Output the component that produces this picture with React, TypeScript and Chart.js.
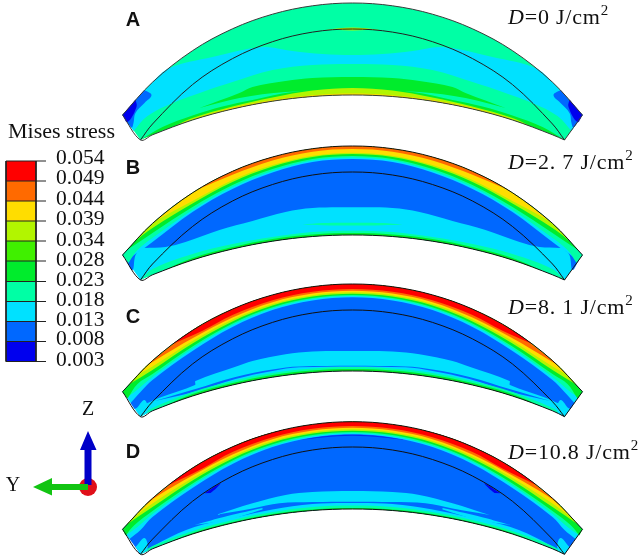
import { useEffect, useRef } from "react";
import { Chart, registerables } from "chart.js";

Chart.register(...registerables);

type P = number[];

const RED = "#FF0000", ORANGE = "#FF6A00", YELLOW = "#FFDD00", LIME = "#B2F500", GREEN1 = "#40F000",
  GREEN2 = "#00EC2C", TEAL = "#00FFA5", CYAN = "#00E1FF", BLUE = "#0068FF", DEEP = "#0000EE";

const legendTitle = "Mises stress";
const legendLabels = ["0.054", "0.049", "0.044", "0.039", "0.034", "0.028", "0.023", "0.018", "0.013", "0.008", "0.003"];
const legendColors = [RED, ORANGE, YELLOW, LIME, GREEN1, GREEN2, TEAL, CYAN, BLUE, DEEP];
const legendLevels = [161, 181, 201, 221, 241, 261, 281.5, 301.5, 321.5, 341.5, 361.5];
const labelLevels = [158.5, 178.5, 199, 219.5, 240, 260, 280, 300, 320, 339.5, 360];

const panelLetters = ["A", "B", "C", "D"];
const letterLevels = [20, 168, 317, 452];
const doseValues = ["=0 J/cm", "=2. 7 J/cm", "=8. 1 J/cm", "=10.8 J/cm"];
const doseLevels = [18, 163, 308, 453];

// Panel A contour boundaries: [distance from the symmetry axis, level]
const outerA: P[] = [[0, 3], [40, 5.8], [80, 14.2], [120, 28.8], [160, 50.7], [200, 82.2], [230, 115]];
const innerA: P[] = [[0, 95], [40, 96.5], [80, 101.2], [120, 109], [160, 120], [200, 134.8], [212, 140]];
const midA: P[] = [[0, 29], [40, 32.1], [80, 41.7], [120, 58.6], [160, 84.6], [200, 124], [212, 140]];
const cyanTopA: P[] = [[0, 55], [30, 54], [60, 51], [90, 47], [140, 57], [183, 68], [200, 82.2], [230, 115]];
const cyanLowA: P[] = [[0, 64], [40, 65], [80, 70], [120, 82], [150, 92], [180, 103], [205, 116], [219, 131]];
const lensTopA: P[] = [[0, 77], [40, 78], [67, 81], [100, 87], [113, 93], [153, 108]];
const lensLowA: P[] = [[0, 90], [67, 92], [113, 98], [153, 108]];
const stripTopA: P[] = [[0, 88], [60, 92], [100, 100], [130, 106.5], [160, 115.5], [190, 127], [212, 140]];
const limeTopA: P[] = [[0, 88], [40, 90.5], [80, 97.5], [120, 106.5], [160, 118], [178, 126]];
const yellowTopA: P[] = [[0, 93.5], [40, 95.2], [80, 100], [120, 107.8], [160, 119.2]];
const crescentTopA: P[] = [[0, 27.5], [27, 29.6]];
const crescentLowA: P[] = [[0, 30.5], [27, 29.6]];
const blueSideA: P[] = [[208, 90], [201, 95], [208, 103], [217, 113], [219, 123], [221, 127.5], [230, 115]];
const deepSideA: P[] = [[217, 99.6], [216, 107], [225, 122], [230, 115]];

// Panel B
const outerB: P[] = [[0, 146], [40, 148.7], [80, 157], [120, 171.3], [160, 192.8], [200, 223.4], [230, 255]];
const innerB: P[] = [[0, 235], [40, 236.5], [80, 241.2], [120, 249], [160, 260], [200, 274.8], [212, 280]];
const midB: P[] = [[0, 172], [40, 175], [80, 184.5], [120, 201], [160, 226.5], [200, 264], [212, 280]];
const blueUpB: P[] = [[0, 159], [40, 162], [80, 172.5], [120, 189], [160, 212], [200, 242], [208, 248]];
const blueLowB: P[] = [[0, 207.3], [40, 208], [67, 212], [100, 221], [133, 230], [167, 242], [187, 247], [208, 248]];
const blueSideB: P[] = [[226, 261], [220, 270], [217, 255], [212, 250]];
const tealB: P[] = [[0, 157.5], [40, 160.5], [80, 171], [120, 187], [160, 210], [200, 238], [215, 250], [224, 263]];
const greenB: P[] = [[0, 156], [40, 159], [80, 169], [120, 185], [160, 207], [200, 233], [226, 250.3]];
const limeB: P[] = [[0, 154], [40, 157], [80, 166.5], [120, 182], [160, 203.5], [200, 228], [218, 241.5]];
const yellowB: P[] = [[0, 152.7], [40, 155.7], [80, 165], [120, 180], [160, 201], [195, 220], [203, 226.2]];
const orangeB: P[] = [[0, 149], [40, 151.7], [80, 160.5], [120, 174.8], [155, 189.7]];
const stripTealB: P[] = [[0, 230.7], [40, 232], [80, 237], [120, 244], [160, 254], [200, 269], [212, 280]];
const stripGreenB: P[] = [[0, 233], [40, 234.5], [80, 239], [120, 247], [160, 258], [190, 270.8]];
const lensTopB: P[] = [[0, 222.7], [30, 223], [50, 224.5]];
const lensLowB: P[] = [[0, 225.5], [30, 225.2], [50, 224.5]];

// Panel C
const outerC: P[] = [[0, 284], [40, 286.7], [80, 294.9], [120, 309.1], [160, 330.3], [200, 360.6], [230, 391.7]];
const innerC: P[] = [[0, 371], [40, 372.5], [80, 377.2], [120, 385], [160, 396], [200, 410.8], [212, 416.7]];
const midC: P[] = [[0, 310], [40, 313], [80, 322.4], [120, 338.9], [160, 364], [200, 401.7], [212, 416.7]];
const blueUpC: P[] = [[0, 297.3], [40, 300.5], [80, 310], [120, 327], [160, 351], [200, 380], [212, 392], [222, 403]];
const blueLowC: P[] = [[0, 351], [40, 351.5], [67, 354.3], [100, 361], [117, 366.7], [157, 381], [157.5, 385], [193, 397.7], [205, 403], [218, 409]];
const tealC: P[] = [[0, 296], [40, 299], [80, 308.5], [120, 325], [160, 348.5], [200, 377], [218, 392], [226, 397.3]];
const greenC: P[] = [[0, 295], [40, 298], [80, 307.2], [120, 323.5], [160, 346.5], [200, 374], [215, 384], [225, 398.6]];
const limeC: P[] = [[0, 293.7], [40, 296.6], [80, 305.6], [120, 321.5], [160, 343.5], [200, 370], [224, 384.7]];
const yellowC: P[] = [[0, 292.3], [40, 295.2], [80, 304], [120, 319.5], [160, 341], [200, 366.6], [215, 375]];
const orangeC: P[] = [[0, 290.7], [40, 293.6], [80, 302.2], [120, 317.5], [160, 338.3], [195, 359], [205, 365.2]];
const redC: P[] = [[0, 289], [40, 291.8], [80, 300.3], [120, 315], [150, 330.8], [180, 344]];
const wedgeTopC: P[] = [[53, 366.5], [80, 369.5], [117, 377], [157, 389], [198, 401]];
const wedgeLowC: P[] = [[53, 367.3], [80, 371], [117, 379], [157, 391.5], [198, 401]];
const stripTealC: P[] = [[0, 367], [40, 368.5], [80, 373], [120, 381], [160, 392], [200, 408], [212, 416.7]];
const stripGreenC: P[] = [[0, 369], [40, 370.5], [80, 375], [120, 383], [160, 394], [190, 406.8]];
const cornerC: P[] = [[217, 410], [208, 400], [205, 411.7], [212, 416.7]];

// Panel D
const outerD: P[] = [[0, 421.7], [40, 424.4], [80, 432.6], [120, 446.8], [160, 468], [200, 498.3], [230, 529.3]];
const innerD: P[] = [[0, 509], [40, 510.5], [80, 515.2], [120, 523], [160, 534], [200, 548.8], [212, 554.3]];
const midD: P[] = [[0, 447], [40, 450], [80, 459.5], [120, 476], [160, 501.3], [200, 539.2], [212, 554.3]];
const cyanD: P[] = [[0, 434.3], [40, 437.5], [80, 447], [120, 464], [160, 488], [200, 517], [212, 530], [223, 539]];
const tealD: P[] = [[0, 433.3], [40, 436.3], [80, 445.7], [120, 462], [160, 485.5], [200, 514], [215, 527], [226, 535]];
const greenD: P[] = [[0, 432], [40, 435], [80, 444.2], [120, 460.5], [160, 483.5], [200, 511], [218, 525], [227, 535.5]];
const limeD: P[] = [[0, 430.7], [40, 433.6], [80, 442.6], [120, 458.5], [160, 480.5], [200, 507], [226, 524.7]];
const yellowD: P[] = [[0, 429.3], [40, 432.2], [80, 441], [120, 456.5], [160, 478], [200, 503.5], [218, 516.7]];
const orangeD: P[] = [[0, 427.7], [40, 430.6], [80, 439.2], [120, 454.5], [160, 475.5], [195, 496], [208, 505.7]];
const redD: P[] = [[0, 426], [40, 428.8], [80, 437.2], [120, 452], [150, 468.5], [185, 485.7]];
const sliverTopD: P[] = [[0, 434.8], [30, 436.5], [52, 440]];
const sliverLowD: P[] = [[0, 435.8], [30, 437.5], [52, 440]];
const blobD: P[] = [[148, 493.3], [132, 483.3], [136, 488], [142, 493]];
const lensTopD: P[] = [[0, 491], [40, 492], [67, 495], [100, 503.3], [137, 515]];
const lensLowD: P[] = [[0, 501.7], [40, 502], [73, 503.3], [100, 508.5], [137, 515]];
const stripCyanD: P[] = [[0, 503], [40, 504], [80, 509.5], [120, 518], [158, 527], [190, 541], [212, 554.3]];
const stripTopD: P[] = [[90, 508], [125, 516], [158, 525]];
const stripBlueD: P[] = [[90, 509.5], [125, 520], [158, 525]];
const stripTealD: P[] = [[0, 505.5], [40, 507], [80, 512], [120, 520], [160, 531], [200, 546], [212, 554.3]];
const stripGreenD: P[] = [[0, 508], [40, 509.5], [80, 514], [120, 522], [160, 533], [190, 544.8]];
const cornerD: P[] = [[217, 547], [208, 538], [205, 549], [212, 554.3]];

// Orientation triad
const zArrow: P[] = [[84.5, 485], [84.5, 450], [80, 450], [88, 431], [96.5, 450], [91.5, 450], [91.5, 485]];
const yArrow: P[] = [[88, 484], [52, 484], [52, 478], [33, 487], [52, 495.5], [52, 490], [88, 490]];
const origin: P[] = [[88, 487]];

const CX = 352.5;
const LEFT = 6, RIGHT = 36, TICK = 46;

const xy = (p: P) => ({ x: p[0], y: p[1] });
const mirror = (c: P[]) => {
  const left = c.filter(p => p[0] > 0).map(p => [CX - p[0], p[1]]).reverse();
  const right = c.map(p => [CX + p[0], p[1]]);
  return [...left, ...right];
};
const along = (c: P[], tip: P) => [...c.filter(p => p[0] < tip[0]), tip];
const band = (u: P[], l: P[]) => {
  const a = mirror(u), b = mirror(l).reverse();
  return [...a, a[a.length - 1], b[0], ...b].map(xy);
};

function fillSet(points: any[], color: string, tension = 0.35) {
  return { data: points, showLine: true, fill: "shape", backgroundColor: color, borderColor: "transparent", borderWidth: 0, pointRadius: 0, tension, clip: false };
}
function strokeSet(points: any[], color: string, width: number, tension = 0.35) {
  return { data: points, showLine: true, fill: false, borderColor: color, borderWidth: width, pointRadius: 0, tension, clip: false };
}
const patch = (c: P[], color: string) => [
  fillSet(c.map(p => xy([CX - p[0], p[1]])), color, 0.4),
  fillSet(c.map(p => xy([CX + p[0], p[1]])), color, 0.4),
];
const tipOuter = (color: string, outer: P[], l: P[]) => fillSet(band(along(outer, l[l.length - 1]), l), color);
const sideOuter = (color: string, outer: P[], l: P[]) => fillSet(band(outer, l), color);
const tipInner = (color: string, u: P[], inner: P[]) => fillSet(band(u, along(inner, u[u.length - 1])), color);
const outline = (outer: P[], inner: P[], color: string) => {
  const pts = band(outer, inner);
  return strokeSet([...pts, pts[0]], color, 1);
};

function buildDatasets() {
  const sets: any[] = [
    // A
    fillSet(band(outerA, innerA), TEAL),
    fillSet(band(cyanTopA, cyanLowA), CYAN),
    fillSet(band(stripTopA, innerA), GREEN2),
    fillSet(band(lensTopA, lensLowA), GREEN2),
    tipInner(LIME, limeTopA, innerA),
    tipInner(YELLOW, yellowTopA, innerA),
    fillSet(band(crescentTopA, crescentLowA), LIME),
    ...patch(blueSideA, BLUE),
    ...patch(deepSideA, DEEP),
    outline(outerA, innerA, "#3a3a3a"),
    strokeSet(mirror(midA).map(xy), "#222", 1),
    // B
    fillSet(band(outerB, innerB), CYAN),
    fillSet(band(blueUpB, blueLowB), BLUE),
    ...patch(blueSideB, BLUE),
    sideOuter(TEAL, outerB, tealB),
    tipOuter(GREEN2, outerB, greenB),
    tipOuter(LIME, outerB, limeB),
    tipOuter(YELLOW, outerB, yellowB),
    tipOuter(ORANGE, outerB, orangeB),
    fillSet(band(stripTealB, innerB), TEAL),
    tipInner(GREEN2, stripGreenB, innerB),
    fillSet(band(lensTopB, lensLowB), TEAL),
    outline(outerB, innerB, "#111"),
    strokeSet(mirror(midB).map(xy), "#111", 1),
    // C
    fillSet(band(outerC, innerC), CYAN),
    fillSet(band(blueUpC, blueLowC), BLUE),
    sideOuter(TEAL, outerC, tealC),
    sideOuter(GREEN2, outerC, greenC),
    tipOuter(LIME, outerC, limeC),
    tipOuter(YELLOW, outerC, yellowC),
    tipOuter(ORANGE, outerC, orangeC),
    tipOuter(RED, outerC, redC),
    fillSet(band(wedgeTopC, wedgeLowC), BLUE),
    fillSet(band(stripTealC, innerC), TEAL),
    tipInner(GREEN2, stripGreenC, innerC),
    ...patch(cornerC, CYAN),
    outline(outerC, innerC, "#111"),
    strokeSet(mirror(midC).map(xy), "#111", 1),
    // D
    fillSet(band(outerD, innerD), BLUE),
    sideOuter(CYAN, outerD, cyanD),
    sideOuter(TEAL, outerD, tealD),
    sideOuter(GREEN2, outerD, greenD),
    tipOuter(LIME, outerD, limeD),
    tipOuter(YELLOW, outerD, yellowD),
    tipOuter(ORANGE, outerD, orangeD),
    tipOuter(RED, outerD, redD),
    fillSet(band(sliverTopD, sliverLowD), "#0030F0"),
    ...patch(blobD, DEEP),
    fillSet(band(lensTopD, lensLowD), CYAN),
    fillSet(band(stripCyanD, innerD), CYAN),
    ...patch(stripTopD.concat(stripBlueD.slice().reverse()), CYAN),
    fillSet(band(stripTealD, innerD), TEAL),
    tipInner(GREEN2, stripGreenD, innerD),
    ...patch(cornerD, CYAN),
    outline(outerD, innerD, "#111"),
    strokeSet(mirror(midD).map(xy), "#111", 1),
  ];
  // Legend
  legendColors.forEach((color, i) => {
    const top = legendLevels[i], bottom = legendLevels[i + 1];
    sets.push(fillSet([xy([LEFT, top]), xy([RIGHT, top]), xy([RIGHT, bottom]), xy([LEFT, bottom])], color, 0));
  });
  legendLevels.forEach(level => {
    sets.push(strokeSet([xy([LEFT, level]), xy([TICK, level])], "#222", 1, 0));
  });
  sets.push(strokeSet([xy([LEFT, legendLevels[0]]), xy([LEFT, legendLevels[10]])], "#222", 1, 0));
  sets.push(strokeSet([xy([RIGHT, legendLevels[0]]), xy([RIGHT, legendLevels[10]])], "#222", 1, 0));
  // Triad
  sets.push({ data: origin.map(xy), showLine: false, pointRadius: 9, pointBackgroundColor: "#E0101A", pointBorderWidth: 0, clip: false });
  sets.push(fillSet(zArrow.map(xy), "#0000C8", 0));
  sets.push(fillSet(yArrow.map(xy), "#12C412", 0));
  // Chart.js paints dataset 0 last, so the painter's order is reversed.
  return sets.reverse();
}

const textPlugin = {
  id: "figureText",
  afterDatasetsDraw(chart: any) {
    const { ctx, scales } = chart;
    const X = (v: number) => scales.x.getPixelForValue(v);
    const Y = (v: number) => scales.y.getPixelForValue(v);
    ctx.save();
    ctx.textBaseline = "middle";
    ctx.textAlign = "left";
    ctx.fillStyle = "#111";
    ctx.font = '22px "Liberation Serif"';
    ctx.fillText(legendTitle, X(8), Y(132));
    ctx.font = '21.5px "Liberation Serif"';
    legendLabels.forEach((t, i) => ctx.fillText(t, X(56), Y(labelLevels[i])));
    ctx.font = '20px "Liberation Serif"';
    ctx.textAlign = "center";
    ctx.fillText("Z", X(88), Y(410));
    ctx.fillText("Y", X(13), Y(486));
    ctx.font = 'bold 20px "Liberation Sans"';
    panelLetters.forEach((t, i) => ctx.fillText(t, X(133), Y(letterLevels[i])));
    ctx.textAlign = "left";
    doseValues.forEach((t, i) => {
      let x = X(508);
      const y = Y(doseLevels[i]);
      (ctx as any).letterSpacing = "0.8px";
      ctx.font = 'italic 22px "Liberation Serif"';
      ctx.fillText("D", x, y);
      x += ctx.measureText("D").width;
      ctx.font = '22px "Liberation Serif"';
      ctx.fillText(t, x, y);
      x += ctx.measureText(t).width;
      ctx.font = '15px "Liberation Serif"';
      ctx.fillText("2", x, y - 7);
      (ctx as any).letterSpacing = "0px";
    });
    ctx.restore();
  },
};

export default function App() {
  const ref = useRef<HTMLCanvasElement>(null);
  useEffect(() => {
    const chart = new Chart(ref.current as HTMLCanvasElement, {
      type: "scatter",
      data: { datasets: buildDatasets() },
      options: {
        animation: false,
        responsive: false,
        devicePixelRatio: 1,
        layout: { padding: 0, autoPadding: false },
        events: [],
        plugins: { legend: { display: false }, tooltip: { enabled: false } },
        scales: {
          x: { type: "linear", display: false, min: 0, max: 643 },
          y: { type: "linear", display: false, min: 0, max: 557, reverse: true },
        },
      },
      plugins: [textPlugin],
    } as any);
    return () => chart.destroy();
  }, []);
  return (
    <div style={{ position: "absolute", left: 0, top: 0, width: 643, height: 557, background: "#fff" }}>
      <canvas ref={ref} width={643} height={557} style={{ display: "block" }} />
    </div>
  );
}
